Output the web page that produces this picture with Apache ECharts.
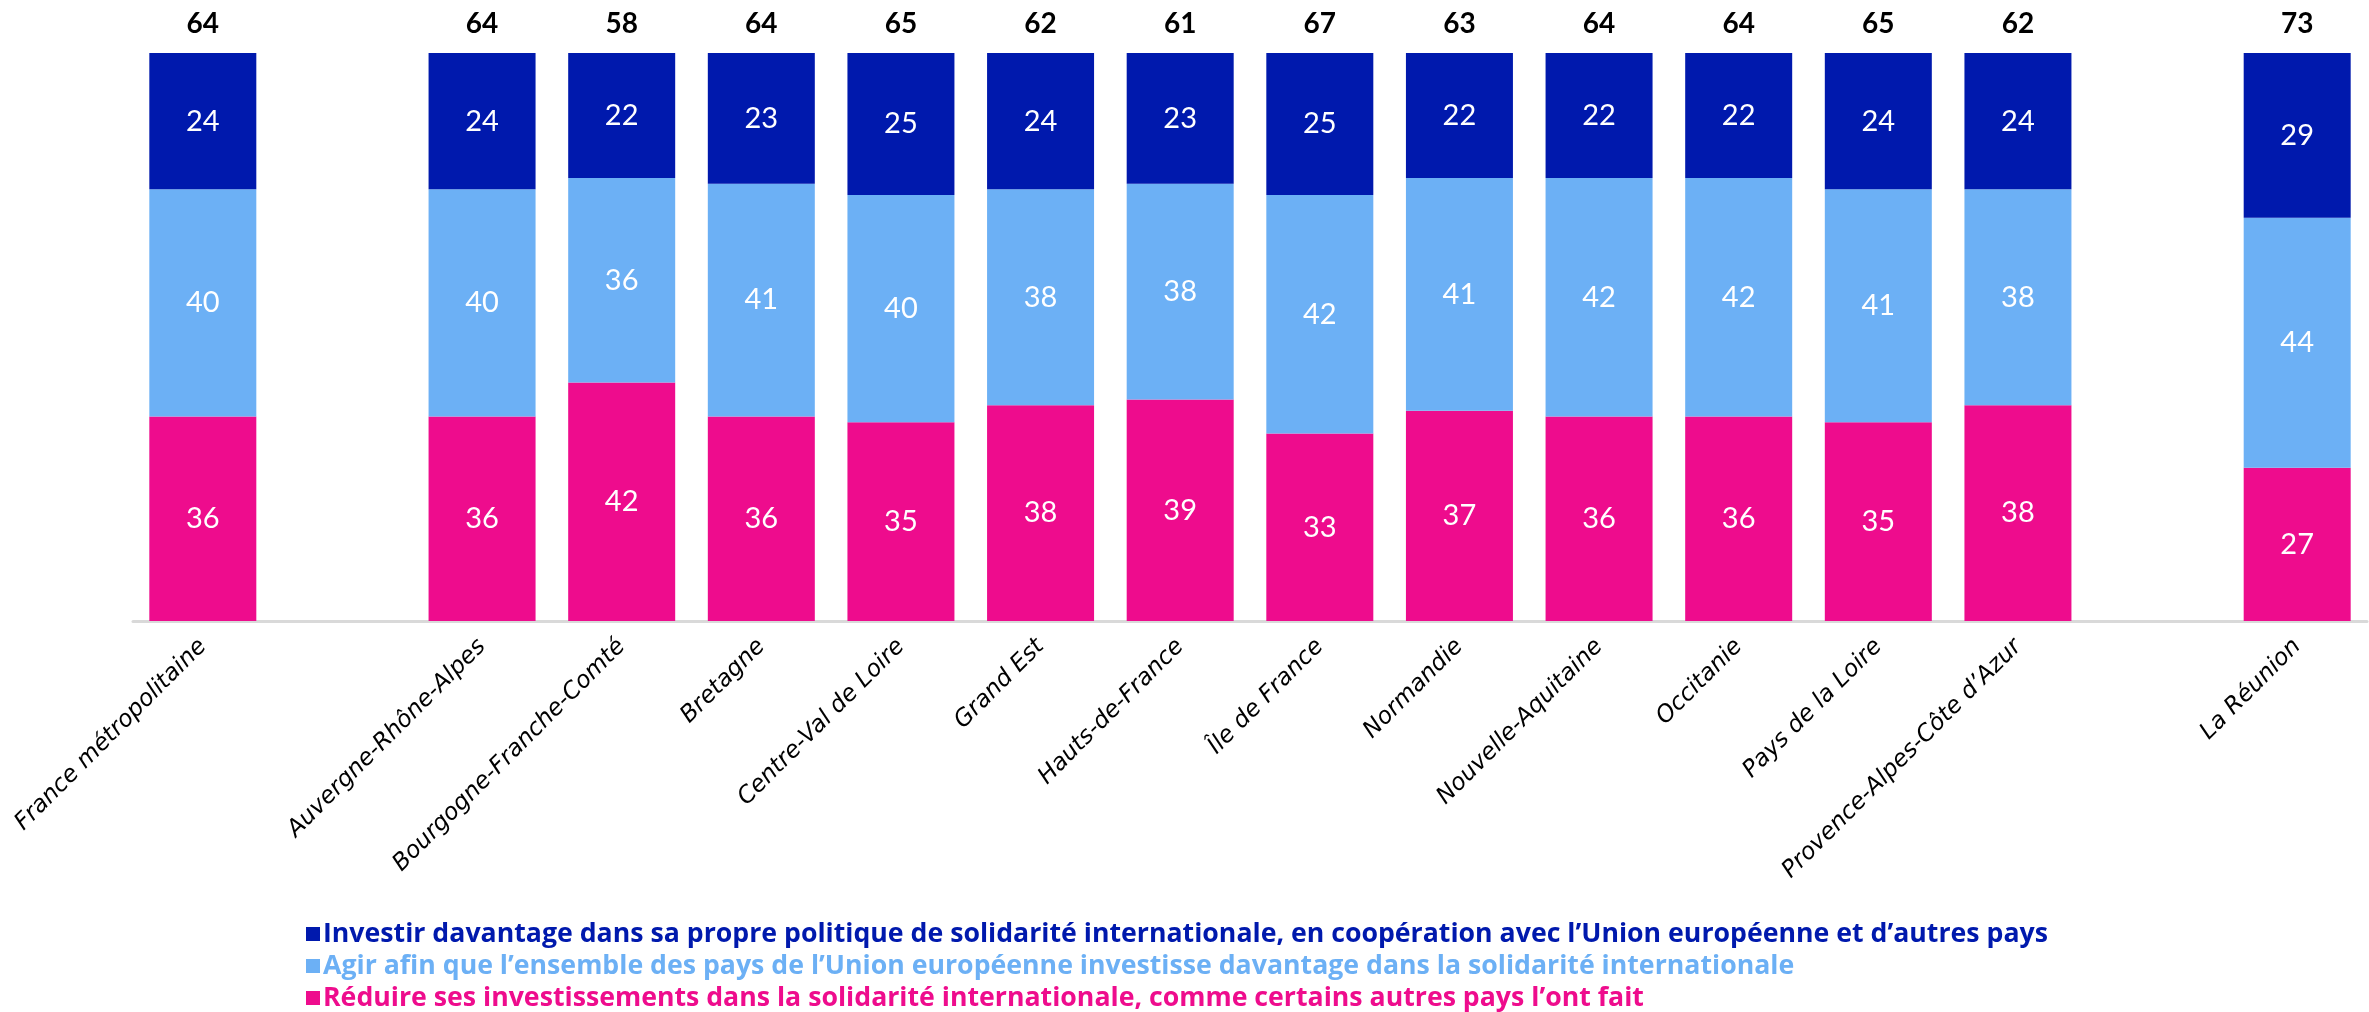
<!DOCTYPE html>
<html>
<head>
<meta charset="utf-8">
<script src="https://cdn.jsdelivr.net/npm/echarts@6/dist/echarts.min.js"></script>
<style>
html,body{margin:0;padding:0;background:#fff;}
#chart{width:2369px;height:1012px;}
</style>
</head>
<body>
<div id="chart"></div>
<script>
const categories = ['France métropolitaine', '', 'Auvergne-Rhône-Alpes', 'Bourgogne-Franche-Comté', 'Bretagne', 'Centre-Val de Loire', 'Grand Est', 'Hauts-de-France', 'Île de France', 'Normandie', 'Nouvelle-Aquitaine', 'Occitanie', 'Pays de la Loire', 'Provence-Alpes-Côte d’Azur', '', 'La Réunion'];
const investir = [24, '-', 24, 22, 23, 25, 24, 23, 25, 22, 22, 22, 24, 24, '-', 29];
const agir     = [40, '-', 40, 36, 41, 40, 38, 38, 42, 41, 42, 42, 41, 38, '-', 44];
const reduire  = [36, '-', 36, 42, 36, 35, 38, 39, 33, 37, 36, 36, 35, 38, '-', 27];
const totals   = [64, '-', 64, 58, 64, 65, 62, 61, 67, 63, 64, 64, 65, 62, '-', 73];

const seriesNames = [
  'Investir davantage dans sa propre politique de solidarité internationale, en coopération avec l’Union européenne et d’autres pays',
  'Agir afin que l’ensemble des pays de l’Union européenne investisse davantage dans la solidarité internationale',
  'Réduire ses investissements dans la solidarité internationale, comme certains autres pays l’ont fait'
];
const colors = ['#0019AD', '#6CB0F5', '#EE0C8D'];
const FONT = 'Lato, "Noto Sans", sans-serif';

const inner = {
  show: true, position: 'inside', color: '#fff', fontSize: 29, fontFamily: FONT, fontWeight: 'normal'
};

const chart = echarts.init(document.getElementById('chart'), null, {renderer: 'canvas'});
chart.setOption({
  animation: false,
  backgroundColor: '#fff',
  grid: {left: 133, right: 2, top: 53, bottom: 391, containLabel: false},
  legend: {
    orient: 'vertical', left: 306, top: 920, padding: 0,
    itemWidth: 14, itemHeight: 14, itemGap: 4,
    icon: 'rect',
    selectedMode: false,
    data: [
      {name: seriesNames[0], textStyle: {color: colors[0]}},
      {name: seriesNames[1], textStyle: {color: colors[1]}},
      {name: seriesNames[2], textStyle: {color: colors[2]}}
    ],
    textStyle: {fontSize: 26.7, fontWeight: 'bold', fontFamily: '"Open Sans", sans-serif', lineHeight: 28, padding: [0,0,0,-2]}
  },
  xAxis: {
    type: 'category', data: categories,
    axisLine: {show: true, lineStyle: {color: '#D9D9D9', width: 3}},
    axisTick: {show: false},
    axisLabel: {rotate: 45, interval: 0, margin: 22, fontSize: 23.5, fontStyle: 'italic', color: '#000', fontFamily: '"DejaVu Sans", sans-serif'}
  },
  yAxis: {type: 'value', min: 0, max: 100, show: false, splitLine: {show: false}},
  series: [
    {name: seriesNames[2], type: 'bar', stack: 's', data: reduire, barWidth: 107, itemStyle: {color: colors[2]}, label: inner},
    {name: seriesNames[1], type: 'bar', stack: 's', data: agir, barWidth: 107, itemStyle: {color: colors[1]}, label: inner},
    {name: seriesNames[0], type: 'bar', stack: 's', data: investir, barWidth: 107, itemStyle: {color: colors[0]}, label: inner},
    {name: 'total', type: 'bar', stack: 's', barWidth: 107,
      data: totals.map(t => t === '-' ? '-' : 0),
      itemStyle: {color: 'transparent'},
      label: {show: true, position: 'top', distance: 15, color: '#000', fontSize: 28, fontWeight: 'bold', fontFamily: FONT,
        formatter: p => String(totals[p.dataIndex])}
    }
  ]
});
</script>
</body>
</html>
